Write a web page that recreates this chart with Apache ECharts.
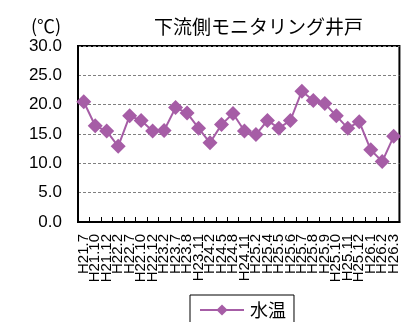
<!DOCTYPE html>
<html>
<head>
<meta charset="utf-8">
<script src="https://cdn.jsdelivr.net/npm/echarts@6/dist/echarts.min.js"></script>
<style>
  html, body { margin: 0; padding: 0; background: #fff; }
  #chart { width: 401px; height: 322px; }
</style>
</head>
<body>
<div id="chart"></div>
<script>
// Sampling dates (Heisei year.month)
const categories = [
  'H21.7', 'H21.10', 'H21.12', 'H22.2', 'H22.7', 'H22.10', 'H22.12', 'H23.2',
  'H23.7', 'H23.8', 'H23.11', 'H24.2', 'H24.5', 'H24.8', 'H24.11', 'H25.2',
  'H25.4', 'H25.5', 'H25.6', 'H25.7', 'H25.8', 'H25.9', 'H25.10', 'H25.11',
  'H25.12', 'H26.1', 'H26.2', 'H26.3'
];

// Water temperature (°C)
const waterTemp = [
  20.5, 16.4, 15.5, 12.9, 18.1, 17.3, 15.5, 15.6,
  19.5, 18.6, 16.0, 13.5, 16.6, 18.5, 15.5, 14.9,
  17.3, 16.0, 17.3, 22.3, 20.7, 20.2, 18.1, 16.0,
  17.1, 12.3, 10.3, 14.6
];

const yTicks = { min: 0, max: 30, interval: 5 };

const seriesName = '水温';
const titleText = '下流側モニタリング井戸';
const unitText = '(℃)';

const purple = '#A65DA6';
const latin = '"Liberation Sans", Arial, sans-serif';
const cjk = '"Noto Sans CJK JP", sans-serif';

const chart = echarts.init(document.getElementById('chart'), null, { renderer: 'canvas' });

chart.setOption({
  animation: false,
  backgroundColor: '#fff',
  title: {
    text: titleText,
    left: 154,
    top: 17,
    padding: 0,
    textStyle: { fontFamily: cjk, fontSize: 19, fontWeight: 'normal', color: '#000' }
  },
  graphic: [{
    type: 'text',
    left: 31,
    top: 17,
    style: { text: unitText, fontFamily: cjk, fontSize: 18, fill: '#000' }
  }],
  legend: {
    left: 190,
    top: 295,
    padding: [6, 8, 12, 9],
    borderColor: '#000',
    borderWidth: 1,
    itemWidth: 44,
    itemHeight: 14,
    itemGap: 6,
    textStyle: { fontFamily: cjk, fontSize: 18, color: '#000', padding: [0, 0, 0, 1] },
    data: [seriesName]
  },
  grid: {
    left: 78,
    top: 46,
    width: 332,
    bottom: 100,
    show: true,
    borderColor: '#000',
    borderWidth: 2,
    containLabel: false
  },
  xAxis: {
    type: 'category',
    data: categories,
    boundaryGap: true,
    axisLine: { lineStyle: { color: '#000', width: 2 } },
    axisTick: { show: true, inside: true, length: 5, interval: 0, lineStyle: { color: '#000', width: 1 } },
    axisLabel: {
      interval: 0,
      rotate: 90,
      margin: 12,
      fontFamily: latin,
      fontSize: 15,
      color: '#000'
    },
    splitLine: { show: false }
  },
  yAxis: {
    type: 'value',
    min: yTicks.min,
    max: yTicks.max,
    interval: yTicks.interval,
    axisLine: { show: true, lineStyle: { color: '#000', width: 2 } },
    axisTick: { show: false },
    axisLabel: {
      margin: 16,
      fontFamily: latin,
      fontSize: 17,
      color: '#000',
      formatter: v => v.toFixed(1)
    },
    splitLine: { show: true, lineStyle: { color: '#808080', type: [3, 2], width: 1 } }
  },
  series: [{
    name: seriesName,
    type: 'line',
    data: waterTemp,
    symbol: 'diamond',
    symbolSize: 15,
    showAllSymbol: true,
    lineStyle: { color: purple, width: 2 },
    itemStyle: { color: purple, borderWidth: 0 }
  }]
});
</script>
</body>
</html>
